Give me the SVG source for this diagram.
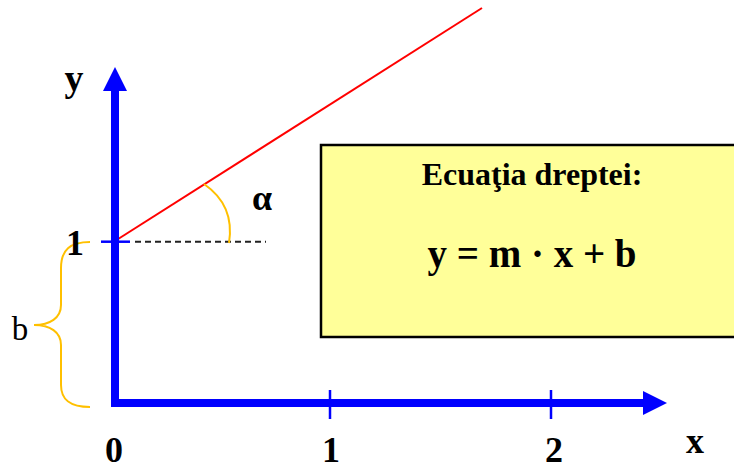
<svg xmlns="http://www.w3.org/2000/svg" width="734" height="470" viewBox="0 0 734 470">
<style>
text{font-family:"Liberation Serif",Tinos,"Times New Roman","DejaVu Serif",serif;fill:#000}
.lbl{font-weight:bold;font-size:36px}
.axis{stroke:#0000FF;stroke-width:8;fill:none}
.tick{stroke:#0000FF;stroke-width:2.5}
.gold{stroke:#FFC000;stroke-width:2;fill:none}
</style>
<rect width="734" height="470" fill="#fff"/>
<g id="box">
<rect x="321" y="145" width="430" height="192" fill="#FFFF99" stroke="#000" stroke-width="2.5"/>
<text x="532" y="185" text-anchor="middle" style="font-weight:bold;font-size:32px">Ecuaţia dreptei:</text>
<text x="532" y="267" text-anchor="middle" style="font-weight:bold;font-size:39px">y = m · x + b</text>
</g>
<g id="connectors">
<line x1="115" y1="241" x2="482" y2="8" stroke="#FF0000" stroke-width="2"/>
<line x1="135" y1="241.7" x2="266" y2="241.7" stroke="#222" stroke-width="2" stroke-dasharray="6,4"/>
<path class="gold" d="M204,184 C220,195 234,212 229,243"/>
<path class="gold" d="M90,242 C70,242 61,250 61,268 L61,305 C61,318 50,325 34,325 C50,325 61,332 61,345 L61,385 C61,400 70,407 90,407"/>
</g>
<g id="axes">
<polyline class="axis" points="115,90 115,403 644,403"/>
<polygon points="115,67 103,91 127,91" fill="#0000FF"/>
<polygon points="667,403 643,391 643,415" fill="#0000FF"/>
<line class="tick" x1="330" y1="390" x2="330" y2="419"/>
<line class="tick" x1="551" y1="390" x2="551" y2="419"/>
<line class="tick" x1="101" y1="241.7" x2="130" y2="241.7"/>
</g>
<g id="labels">
<text x="74" y="91" text-anchor="middle" class="lbl" style="font-size:38px">y</text>
<text x="695" y="453" text-anchor="middle" class="lbl">x</text>
<text x="75" y="255" text-anchor="middle" class="lbl">1</text>
<text x="114" y="462" text-anchor="middle" class="lbl">0</text>
<text x="331" y="462" text-anchor="middle" class="lbl">1</text>
<text x="554" y="462" text-anchor="middle" class="lbl">2</text>
<text x="20" y="340" text-anchor="middle" style="font-size:33px">b</text>
<text x="262" y="210" text-anchor="middle" style="font-size:36px;font-weight:bold">α</text>
</g>
</svg>
